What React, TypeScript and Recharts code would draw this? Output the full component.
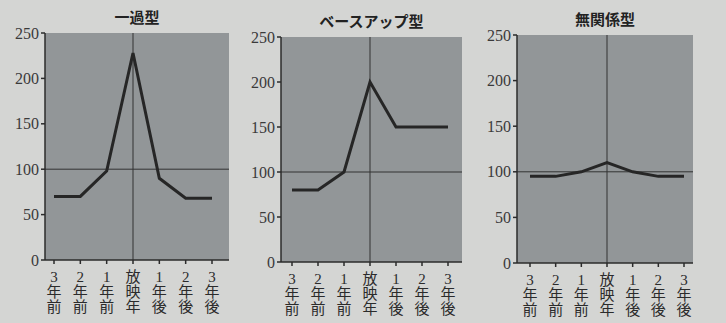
import { LineChart, Line, XAxis, YAxis, CartesianGrid, ReferenceLine } from "recharts";

const categories = ["3年前", "2年前", "1年前", "放映年", "1年後", "2年後", "3年後"];
const yTicks = [0, 50, 100, 150, 200, 250];

const ikkaValues = [70, 70, 98, 228, 90, 68, 68];
const baseUpValues = [80, 80, 100, 200, 150, 150, 150];
const mukankeiValues = [95, 95, 100, 110, 100, 95, 95];

const titles = ["一過型", "ベースアップ型", "無関係型"];

const SERIF = "'Liberation Serif', 'DejaVu Serif', 'Noto Sans CJK JP', serif";
const INK = "#2b2b2b";
const PLOT_BG = "#929698";
const PAGE_BG = "#d4d5d3";

function StackedTick({ x, y, payload }: any) {
  const chars = String(payload.value).split("");
  return (
    <text x={x} y={y} textAnchor="middle" fill={INK} fontFamily={SERIF} fontSize={15}>
      {chars.map((c, i) => (
        <tspan key={i} x={x} dy={i === 0 ? 16 : 15}>
          {c}
        </tspan>
      ))}
    </text>
  );
}

interface PanelProps {
  title: string;
  values: number[];
  left: number;
  width: number;
  top: number;
  bottom: number;
  yWidth: number;
  right: number;
  pad: { left: number; right: number };
  titleTop: number;
}

function Panel({ title, values, left, width, top, bottom, yWidth, right, pad, titleTop }: PanelProps) {
  const data = categories.map((c, i) => ({ cat: c, v: values[i] }));
  return (
    <div style={{ position: "absolute", left, top: 0, width, height: 323 }}>
      <div
        style={{
          position: "absolute",
          left: yWidth,
          width: width - yWidth - right,
          top: titleTop,
          textAlign: "center",
          fontFamily: "'Noto Sans CJK JP', sans-serif",
          fontWeight: 700,
          fontSize: 15,
          color: "#222",
        }}
      >
        {title}
      </div>
      <LineChart width={width} height={323} data={data} margin={{ top, bottom: bottom - 60, left: 0, right }}>
        <CartesianGrid fill={PLOT_BG} horizontal={false} vertical={false} />
        <XAxis
          dataKey="cat"
          xAxisId="b"
          interval={0}
          padding={pad}
          height={60}
          tick={<StackedTick />}
          tickSize={4}
          stroke={INK}
          strokeWidth={1.5}
        />
        <XAxis xAxisId="t" orientation="top" dataKey="cat" tick={false} tickLine={false} stroke="#333" height={0} />
        <YAxis
          yAxisId="l"
          domain={[0, 250]}
          ticks={yTicks}
          width={yWidth}
          tickSize={4}
          stroke={INK}
          strokeWidth={1.5}
          tick={{ fill: "#3a3a3a", fontFamily: SERIF, fontSize: 16 }}
        />
        <YAxis yAxisId="r" orientation="right" domain={[0, 250]} tick={false} tickLine={false} stroke="#333" width={0} />
        <ReferenceLine xAxisId="b" yAxisId="l" y={100} stroke="#333" strokeWidth={1} />
        <ReferenceLine xAxisId="b" yAxisId="l" x="放映年" stroke="#333" strokeWidth={1} />
        <Line
          xAxisId="b"
          yAxisId="l"
          type="linear"
          dataKey="v"
          stroke="#262626"
          strokeWidth={3}
          dot={false}
          isAnimationActive={false}
        />
      </LineChart>
    </div>
  );
}

export default function App() {
  return (
    <div style={{ position: "absolute", left: 0, top: 0, width: 726, height: 323, background: PAGE_BG, overflow: "hidden" }}>
      <Panel title={titles[0]} values={ikkaValues} left={0} width={240} top={33} bottom={63} yWidth={45} right={11} pad={{ left: 9, right: 17 }} titleTop={6} />
      <Panel title={titles[1]} values={baseUpValues} left={240} width={240} top={37} bottom={61} yWidth={41} right={18} pad={{ left: 11, right: 14 }} titleTop={10} />
      <Panel title={titles[2]} values={mukankeiValues} left={480} width={246} top={35} bottom={60} yWidth={37} right={33} pad={{ left: 13, right: 9 }} titleTop={8} />
    </div>
  );
}
